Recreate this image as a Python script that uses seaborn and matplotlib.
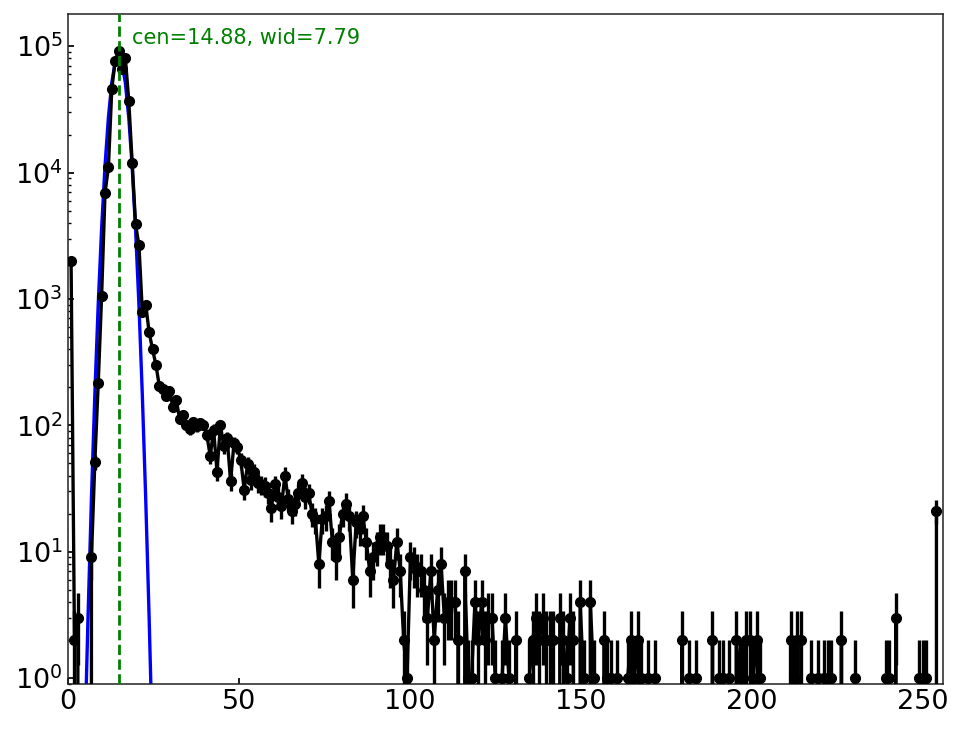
import numpy as np
import pandas as pd
import matplotlib
matplotlib.use("Agg")
import matplotlib.pyplot as plt
import seaborn as sns

# -------------------------------------------------
# Data: histogram counts (256 bins) + gaussian fit result
# -------------------------------------------------
bin_edges = np.linspace(0.5, 254.5, 257)

counts = [
    2000, 2, 3, 0, 0, 0, 9, 51, 215, 1060,                      # 0-9
    6900, 11000, 46000, 77000, 91000, 66000, 80000, 37000, 11900, 3900,  # 10-19
    2650, 790, 900, 545, 400, 300, 205, 193, 172, 188,           # 20-29
    140, 158, 112, 121, 101, 93, 106, 98, 104, 101,              # 30-39
    84, 57, 92, 43, 100, 68, 79, 36, 72, 67,                     # 40-49
    53, 31, 49, 37, 43, 35, 34, 33, 29, 22,                      # 50-59
    34, 27, 23, 40, 26, 21, 24, 29, 35, 27,                      # 60-69
    29, 20, 18, 8, 18, 19, 25, 12, 9, 13,                        # 70-79
    20, 24, 19, 6, 17, 15, 19, 12, 7, 9,                         # 80-89
    11, 13, 13, 11, 8, 6, 12, 7, 2, 1,                           # 90-99
    9, 8, 7, 7, 5, 3, 7, 2, 5, 8,                                # 100-109
    3, 4, 4, 4, 2, 0, 7, 1, 1, 4,                                # 110-119
    2, 4, 2, 3, 3, 1, 0, 1, 3, 1,                                # 120-129
    0, 2, 0, 0, 0, 1, 2, 3, 2, 3,                                # 130-139
    2, 2, 2, 0, 3, 2, 1, 3, 2, 0,                                # 140-149
    4, 1, 0, 4, 1, 0, 0, 2, 1, 1,                                # 150-159
    0, 1, 0, 0, 1, 2, 1, 2, 1, 0,                                # 160-169
    1, 0, 1, 0, 0, 0, 0, 0, 0, 0,                                # 170-179
    2, 0, 1, 0, 1, 0, 0, 0, 0, 2,                                # 180-189
    0, 1, 1, 0, 1, 0, 2, 1, 1, 2,                                # 190-199
    2, 1, 2, 1, 0, 0, 0, 0, 0, 0,                                # 200-209
    0, 0, 2, 1, 2, 2, 0, 0, 1, 0,                                # 210-219
    1, 0, 1, 1, 1, 0, 0, 2, 0, 0,                                # 220-229
    0, 1, 0, 0, 0, 0, 0, 0, 0, 0,                                # 230-239
    1, 1, 0, 3, 0, 0, 0, 0, 0, 0,                                # 240-249
    1, 1, 1, 0, 0, 21,                                           # 250-255
]

fit_amp = 85000.0
fit_cen = 14.88
fit_wid = 7.79


def gaussian(x, amp, cen, wid):
    return amp * np.exp(-(x - cen) ** 2 / wid)


# -------------------------------------------------
# Style
# -------------------------------------------------
sns.set_theme(
    style="ticks",
    rc={
        "xtick.direction": "in",
        "ytick.direction": "in",
        "xtick.major.size": 4.5,
        "ytick.major.size": 4.5,
        "ytick.minor.size": 2.5,
        "axes.linewidth": 1.1,
        "axes.edgecolor": "#222222",
        "xtick.color": "black",
        "ytick.color": "black",
        "text.color": "black",
        "axes.labelcolor": "black",
    },
)
plt.rcParams["font.family"] = ["DejaVu Sans"]


def main():
    x = (bin_edges[:-1] + bin_edges[1:]) / 2
    y = np.array(counts, dtype=float)
    df = pd.DataFrame({"x": x, "counts": y, "fit": gaussian(x, fit_amp, fit_cen, fit_wid)})

    fig = plt.figure(figsize=(9.64, 7.29), dpi=100)
    ax = fig.add_axes([0.0702, 0.0621, 0.9083, 0.9187])

    # gaussian fit
    sns.lineplot(data=df, x="x", y="fit", color="#0000ff", lw=2.4,
                 estimator=None, sort=False, ax=ax, zorder=2)

    # histogram with poisson errors
    ax.errorbar(df["x"], df["counts"], yerr=np.sqrt(df["counts"]),
                fmt="o-", color="black", lw=2.4, ms=7, capsize=0, zorder=3)

    ax.axvline(fit_cen, color="#008000", ls="--", lw=2, zorder=4)
    ax.text(fit_cen + fit_wid / 2, 1.05e5,
            f"cen={fit_cen:.2f}, wid={fit_wid:.2f}",
            color="#008000", fontsize=15)

    ax.set_yscale("log")
    ax.set_xlim(0, 256)
    ax.set_ylim(0.9, 1.8e5)
    ax.set_xlabel("")
    ax.set_ylabel("")
    ax.tick_params(axis="both", which="both", labelsize=19.5)
    ax.tick_params(axis="x", which="minor", bottom=False)

    fig.savefig("out.png", dpi=100)
    plt.close(fig)


if __name__ == "__main__":
    main()
